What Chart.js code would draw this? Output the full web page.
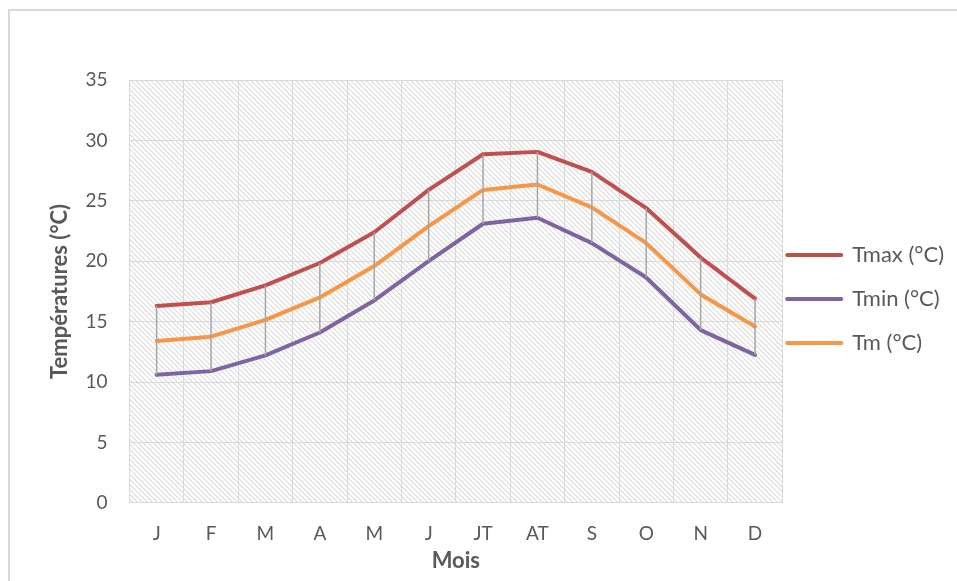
<!DOCTYPE html>
<html>
<head>
<meta charset="utf-8">
<script src="https://cdn.jsdelivr.net/npm/chart.js@4"></script>
<style>
    html, body { margin: 0; padding: 0; background: #fff; }
    #frame { position: absolute; left: 8px; top: 9px; width: 960px; height: 600px; border-left: 2px solid #d9d9d9; border-top: 2px solid #d9d9d9; }
    #wrap { position: absolute; left: 0; top: 0; width: 957px; height: 581px; }
</style>
</head>
<body>
<div id="frame"></div>
<div id="wrap"><canvas id="tempChart"></canvas></div>
<script>
const months = ['J', 'F', 'M', 'A', 'M', 'J', 'JT', 'AT', 'S', 'O', 'N', 'D']
const tmax = [16.3, 16.6, 18.0, 19.85, 22.4, 25.9, 28.85, 29.05, 27.4, 24.4, 20.3, 16.9]
const tmin = [10.6, 10.9, 12.2, 14.1, 16.75, 20.0, 23.1, 23.6, 21.5, 18.65, 14.3, 12.25]
const tm = [13.4, 13.75, 15.15, 17.0, 19.6, 22.9, 25.9, 26.35, 24.45, 21.5, 17.25, 14.6]
const yTicks = [0, 5, 10, 15, 20, 25, 30, 35]

const FONT = 'Lato, "Open Sans", sans-serif'
const GREY = '#595959'

// hatched plot background (Excel "wide downward diagonal")
function hatchPattern(ctx) {
    const size = 5
    const tile = document.createElement('canvas')
    tile.width = size
    tile.height = size
    const t = tile.getContext('2d')
    t.fillStyle = '#ffffff'
    t.fillRect(0, 0, size, size)
    for (let i = 0; i < size; i++) {
        t.fillStyle = '#dcdcdc'
        t.fillRect(i, i, 1, 1)
        t.fillStyle = '#eeeeee'
        t.fillRect((i + 1) % size, i, 1, 1)
    }
    return ctx.createPattern(tile, 'repeat')
}

const plotBackground = {
    id: 'plotBackground',
    beforeDraw(chart) {
        const { ctx, chartArea } = chart
        ctx.save()
        ctx.fillStyle = hatchPattern(ctx)
        ctx.fillRect(chartArea.left, chartArea.top, chartArea.right - chartArea.left, chartArea.bottom - chartArea.top)
        ctx.restore()
    }
}

// high-low lines between Tmax and Tmin
const highLowLines = {
    id: 'highLowLines',
    afterDatasetsDraw(chart) {
        const { ctx } = chart
        const x = chart.scales.x
        const y = chart.scales.y
        ctx.save()
        ctx.strokeStyle = '#a6a6a6'
        ctx.lineWidth = 1.5
        months.forEach((m, i) => {
            const px = x.getPixelForValue(i)
            ctx.beginPath()
            ctx.moveTo(px, y.getPixelForValue(tmax[i]))
            ctx.lineTo(px, y.getPixelForValue(tmin[i]))
            ctx.stroke()
        })
        ctx.restore()
    }
}

// pull the legend a bit closer to the plot, like Excel does
const legendNudge = {
    id: 'legendNudge',
    afterLayout(chart) {
        if (chart.legend) {
            chart.legend.left -= 17
            chart.legend.right -= 17
        }
    }
}

const ctx = document.getElementById('tempChart').getContext('2d')

new Chart(ctx, {
    type: 'line',
    data: {
        labels: months,
        datasets: [
            { label: 'Tmax (°C)', data: tmax, borderColor: '#c0504d', backgroundColor: '#c0504d' },
            { label: 'Tmin (°C)', data: tmin, borderColor: '#8064a2', backgroundColor: '#8064a2' },
            { label: 'Tm (°C)', data: tm, borderColor: '#f79646', backgroundColor: '#f79646' },
        ]
    },
    options: {
        responsive: true,
        maintainAspectRatio: false,
        animation: false,
        elements: {
            line: { borderWidth: 4, tension: 0, borderCapStyle: 'round', borderJoinStyle: 'round' },
            point: { radius: 0, hoverRadius: 0 }
        },
        layout: { padding: { left: 47, top: 80, right: -14, bottom: 7 } },
        plugins: {
            tooltip: { enabled: false },
            legend: {
                position: 'right',
                fullSize: false,
                title: { display: true, text: ' ', font: { size: 1 }, padding: { top: 14, bottom: 0 } },
                labels: {
                    usePointStyle: true,
                    pointStyle: 'line',
                    pointStyleWidth: 54,
                    boxHeight: 4,
                    padding: 22,
                    color: GREY,
                    font: { family: FONT, size: 22 },
                    generateLabels(chart) {
                        return chart.data.datasets.map((ds, i) => ({
                            text: ds.label,
                            fillStyle: ds.borderColor,
                            strokeStyle: ds.borderColor,
                            lineWidth: 4,
                            lineCap: 'round',
                            pointStyle: 'line',
                            fontColor: GREY,
                            hidden: false,
                            datasetIndex: i
                        }))
                    }
                }
            }
        },
        scales: {
            x: {
                offset: true,
                grid: { offset: true, color: '#d9d9d9', lineWidth: 1, drawTicks: false },
                border: { color: '#d9d9d9', width: 1 },
                ticks: { color: GREY, padding: 20, font: { family: FONT, size: 19 } },
                title: { display: true, text: 'Mois', color: GREY, padding: { top: -18, bottom: 0 }, font: { family: FONT, size: 22, weight: 'bold' } }
            },
            y: {
                min: 0,
                max: 35,
                afterBuildTicks(axis) { axis.ticks = yTicks.map(v => ({ value: v })) },
                grid: { color: '#d9d9d9', lineWidth: 1, drawTicks: false },
                border: { color: '#d9d9d9', width: 1 },
                ticks: { color: GREY, padding: 22, font: { family: FONT, size: 19 } },
                title: { display: true, text: 'Températures (°C)', color: GREY, padding: { top: 0, bottom: -10 }, font: { family: FONT, size: 22, weight: 'bold' } }
            }
        }
    },
    plugins: [plotBackground, highLowLines, legendNudge]
})
</script>
</body>
</html>
